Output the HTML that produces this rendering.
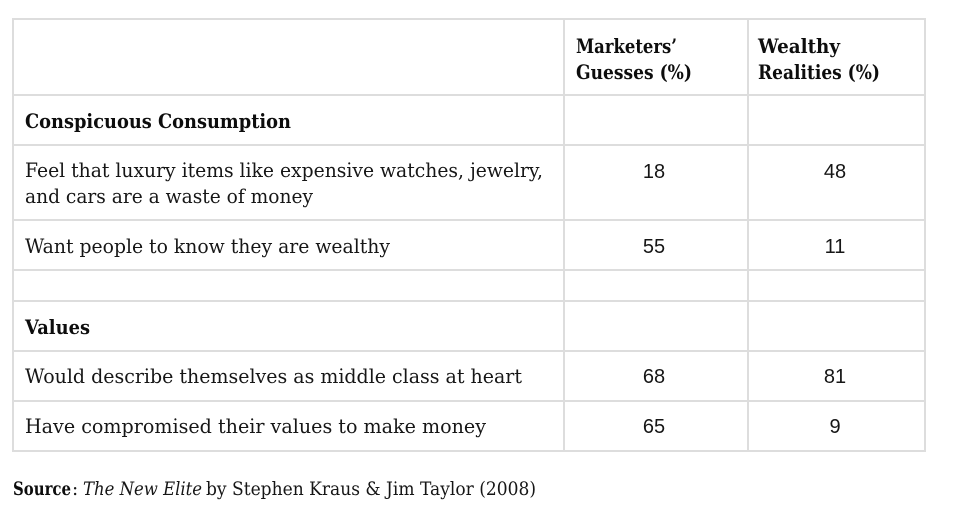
<!DOCTYPE html>
<html>
<head>
<meta charset="utf-8">
<style>
  html, body { margin: 0; padding: 0; background: #ffffff; }
  body { width: 960px; height: 512px; overflow: hidden; }
  svg { display: block; }
  .t { font-family: "DejaVu Serif", "Liberation Serif", serif; font-size: 20px; fill: #161616; }
  .s { font-family: "DejaVu Serif", "Liberation Serif", serif; font-size: 18.5px; fill: #161616; }
  .b { font-weight: bold; fill: #0d0d0d; }
  .i { font-style: italic; }
  .n { font-family: "Liberation Sans", "DejaVu Sans", sans-serif; font-size: 20px; fill: #161616; }
</style>
</head>
<body>
<svg width="960" height="512" viewBox="0 0 960 512" xmlns="http://www.w3.org/2000/svg">
  <rect x="0" y="0" width="960" height="512" fill="#ffffff"/>
  <g stroke="#dddddd" stroke-width="2" fill="none">
    <line x1="12" y1="19" x2="926" y2="19"/>
    <line x1="12" y1="95" x2="926" y2="95"/>
    <line x1="12" y1="145" x2="926" y2="145"/>
    <line x1="12" y1="220" x2="926" y2="220"/>
    <line x1="12" y1="270" x2="926" y2="270"/>
    <line x1="12" y1="301" x2="926" y2="301"/>
    <line x1="12" y1="351" x2="926" y2="351"/>
    <line x1="12" y1="401" x2="926" y2="401"/>
    <line x1="12" y1="451" x2="926" y2="451"/>
    <line x1="13" y1="18" x2="13" y2="452"/>
    <line x1="564" y1="18" x2="564" y2="452"/>
    <line x1="748" y1="18" x2="748" y2="452"/>
    <line x1="925" y1="18" x2="925" y2="452"/>
  </g>

  <!-- Header -->
  <text class="t b" x="576" y="53" textLength="101" lengthAdjust="spacingAndGlyphs">Marketers’</text>
  <text class="t b" x="576" y="79" textLength="116" lengthAdjust="spacingAndGlyphs">Guesses (%)</text>
  <text class="t b" x="758" y="53" textLength="82" lengthAdjust="spacingAndGlyphs">Wealthy</text>
  <text class="t b" x="758" y="79" textLength="122" lengthAdjust="spacingAndGlyphs">Realities (%)</text>

  <!-- Section: Conspicuous Consumption -->
  <text class="t b" x="25" y="128" textLength="266" lengthAdjust="spacingAndGlyphs">Conspicuous Consumption</text>

  <text class="t" x="25" y="177" textLength="518" lengthAdjust="spacingAndGlyphs">Feel that luxury items like expensive watches, jewelry,</text>
  <text class="t" x="25" y="203" textLength="288" lengthAdjust="spacingAndGlyphs">and cars are a waste of money</text>
  <text class="n" x="654" y="178" text-anchor="middle">18</text>
  <text class="n" x="835" y="178" text-anchor="middle">48</text>

  <text class="t" x="25" y="253" textLength="365" lengthAdjust="spacingAndGlyphs">Want people to know they are wealthy</text>
  <text class="n" x="654" y="253" text-anchor="middle">55</text>
  <text class="n" x="835" y="253" text-anchor="middle">11</text>

  <!-- Section: Values -->
  <text class="t b" x="25" y="334" textLength="65" lengthAdjust="spacingAndGlyphs">Values</text>

  <text class="t" x="25" y="383" textLength="497" lengthAdjust="spacingAndGlyphs">Would describe themselves as middle class at heart</text>
  <text class="n" x="654" y="383" text-anchor="middle">68</text>
  <text class="n" x="835" y="383" text-anchor="middle">81</text>

  <text class="t" x="25" y="433" textLength="461" lengthAdjust="spacingAndGlyphs">Have compromised their values to make money</text>
  <text class="n" x="654" y="433" text-anchor="middle">65</text>
  <text class="n" x="835" y="433" text-anchor="middle">9</text>

  <!-- Source -->
  <text class="s b" x="13" y="495" textLength="58" lengthAdjust="spacingAndGlyphs">Source</text>
  <text class="s" x="72" y="495">:</text>
  <text class="s i" x="83" y="495" textLength="119" lengthAdjust="spacingAndGlyphs">The New Elite</text>
  <text class="s" x="206" y="495" textLength="330" lengthAdjust="spacingAndGlyphs">by Stephen Kraus &amp; Jim Taylor (2008)</text>
</svg>
</body>
</html>
